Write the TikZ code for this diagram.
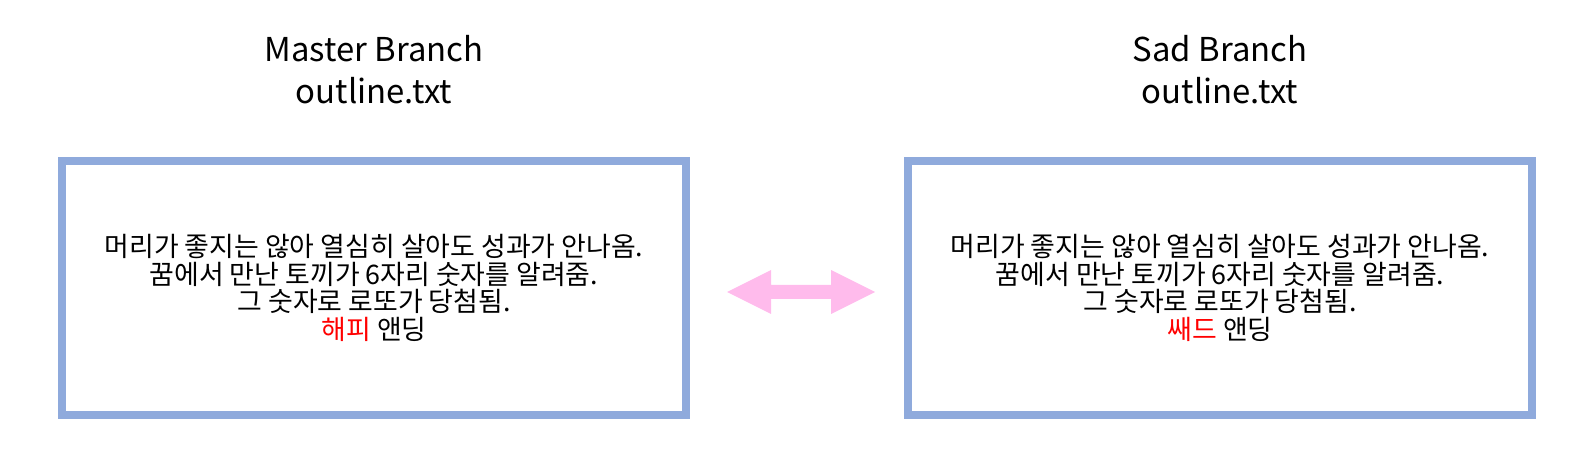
\documentclass[tikz,border=0pt]{standalone}
\usepackage{fontspec}
\setmainfont{Noto Sans CJK KR}
\definecolor{boxblue}{RGB}{143,170,220}
\definecolor{arrowpink}{RGB}{255,187,236}
\begin{document}
\begin{tikzpicture}[x=1bp,y=-1bp,
  panel/.style={draw=boxblue,line width=8bp,fill=white,minimum width=624bp,minimum height=254bp,inner sep=0pt},
  body/.style={align=center,font=\fontsize{27}{27.7}\selectfont},
  title/.style={align=center,font=\fontsize{33}{42}\selectfont}]
\useasboundingbox (0,0) rectangle (1590,476);
\node[panel] (left) at (374,288) {};
\node[panel] (right) at (1220,288) {};
\node[body] (ltext) at (left.center) {머리가 좋지는 않아 열심히 살아도 성과가 안나옴.\\꿈에서 만난 토끼가 6자리 숫자를 알려줌.\\그 숫자로 로또가 당첨됨.\\\textcolor{red}{해피} 앤딩};
\node[body] (rtext) at (right.center) {머리가 좋지는 않아 열심히 살아도 성과가 안나옴.\\꿈에서 만난 토끼가 6자리 숫자를 알려줌.\\그 숫자로 로또가 당첨됨.\\\textcolor{red}{쌔드} 앤딩};
\node[title] (ltitle) at (374,70) {Master Branch\\outline.txt};
\node[title] (rtitle) at (1220,70) {Sad Branch\\outline.txt};
\coordinate (al) at (727,292);
\coordinate (ar) at (875,292);
\fill[arrowpink] (al) -- (771,270) -- (771,285) -- (831,285) -- (831,270) -- (ar) -- (831,314) -- (831,299) -- (771,299) -- (771,314) -- cycle;
\end{tikzpicture}
\end{document}
